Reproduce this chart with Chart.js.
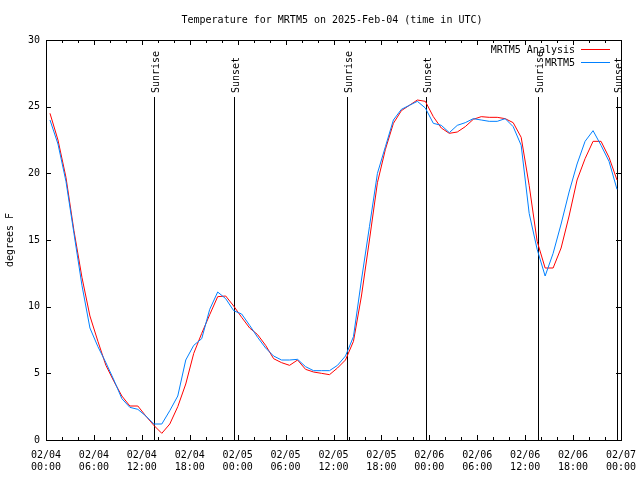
<!DOCTYPE html>
<html><head><meta charset="utf-8">
<script src="https://cdn.jsdelivr.net/npm/chart.js@4/dist/chart.umd.min.js"></script>
<style>html,body{margin:0;padding:0;background:#fff;}#wrap{width:640px;height:480px;}</style>
</head><body><div id="wrap"><canvas id="c" width="640" height="480"></canvas></div>
<script>
const hours = [0.5,1.5,2.5,3.5,4.5,5.5,6.5,7.5,8.5,9.5,10.5,11.5,12.5,13.5,14.5,15.5,16.5,17.5,18.5,19.5,20.5,21.5,22.5,23.5,
  24.5,25.5,26.5,27.5,28.5,29.5,30.5,31.5,32.5,33.5,34.5,35.5,36.5,37.5,38.5,39.5,40.5,41.5,42.5,43.5,44.5,45.5,46.5,47.5,
  48.5,49.5,50.5,51.5,52.5,53.5,54.5,55.5,56.5,57.5,58.5,59.5,60.5,61.5,62.5,63.5,64.5,65.5,66.5,67.5,68.5,69.5,70.5,71.5];
const analysis = [24.5,22.5,19.7,15.7,12.2,9.3,7.4,5.6,4.4,3.3,2.55,2.55,1.8,1.1,0.5,1.2,2.5,4.2,6.5,8.0,9.4,10.75,10.8,10.05,
  9.2,8.4,7.9,7.1,6.1,5.8,5.6,6.0,5.3,5.1,5.0,4.9,5.4,6.0,7.4,10.8,15.0,19.3,21.8,23.75,24.7,25.1,25.5,25.4,
  24.25,23.4,23.0,23.1,23.5,24.05,24.25,24.2,24.2,24.1,23.8,22.7,19.1,14.9,12.9,12.9,14.4,16.8,19.5,21.1,22.4,22.4,21.2,19.5];
const observed = [24.0,22.2,19.4,15.5,11.6,8.4,7.0,5.8,4.5,3.1,2.45,2.3,1.8,1.2,1.2,2.2,3.3,6.0,7.1,7.6,9.8,11.1,10.6,9.7,
  9.45,8.6,7.7,6.9,6.3,6.0,6.0,6.05,5.5,5.2,5.2,5.2,5.6,6.3,7.75,12.0,16.0,20.0,22.0,24.0,24.8,25.1,25.4,24.9,
  23.75,23.6,23.05,23.6,23.8,24.1,24.0,23.9,23.9,24.1,23.5,22.1,17.0,14.3,12.3,14.0,16.2,18.6,20.7,22.4,23.2,22.1,20.9,18.8];
const tickDates = ['02/04','02/04','02/04','02/04','02/05','02/05','02/05','02/05','02/06','02/06','02/06','02/06','02/07'];
const tickTimes = ['00:00','06:00','12:00','18:00','00:00','06:00','12:00','18:00','00:00','06:00','12:00','18:00','00:00'];
const eventNames = ['Sunrise','Sunset','Sunrise','Sunset','Sunrise','Sunset'];
const eventHours = [13.52,23.54,37.69,47.58,61.61,71.5];
const seriesNames = ['MRTM5 Analysis','MRTM5'];
const titleText = 'Temperature for MRTM5 on 2025-Feb-04 (time in UTC)';
const FONT = "'DejaVu Sans Mono', 'Liberation Mono', monospace";
const RED = '#ff0000', BLUE = '#0080ff';

const toPts = (arr) => arr.map((v, i) => ({x: hours[i], y: v}));

const decor = {
  id: 'decor',
  beforeDatasetsDraw(chart) {
    const {ctx, chartArea: a, scales: {x}} = chart;
    ctx.save();
    ctx.strokeStyle = '#000'; ctx.fillStyle = '#000'; ctx.lineWidth = 1;
    ctx.font = '10px ' + FONT;
    eventHours.forEach((h, i) => {
      const px = Math.round(x.getPixelForValue(h)) + 0.5;
      ctx.beginPath(); ctx.moveTo(px, 97); ctx.lineTo(px, a.bottom); ctx.stroke();
      ctx.save(); ctx.translate(px + 4, 93); ctx.rotate(-Math.PI / 2);
      ctx.textAlign = 'left'; ctx.textBaseline = 'alphabetic';
      ctx.fillText(eventNames[i], 0, 0); ctx.restore();
    });
    ctx.restore();
  },
  afterDraw(chart) {
    const {ctx, chartArea: a, scales: {x, y}} = chart;
    ctx.save();
    ctx.strokeStyle = '#000'; ctx.lineWidth = 1;
    ctx.strokeRect(a.left + 0.5, a.top + 0.5, a.right - a.left, a.bottom - a.top);
    ctx.beginPath();
    x.ticks.forEach(t => {
      const px = Math.round(x.getPixelForValue(t.value)) + 0.5;
      const len = t.value % 6 === 0 ? 5 : 3;
      ctx.moveTo(px, a.bottom); ctx.lineTo(px, a.bottom - len);
      ctx.moveTo(px, a.top); ctx.lineTo(px, a.top + len);
    });
    y.ticks.forEach(t => {
      const py = Math.round(y.getPixelForValue(t.value)) + 0.5;
      ctx.moveTo(a.left, py); ctx.lineTo(a.left + 5, py);
      ctx.moveTo(a.right, py); ctx.lineTo(a.right - 5, py);
    });
    ctx.stroke();
    ctx.fillStyle = '#000';
    ctx.font = '10px ' + FONT;
    ctx.textAlign = 'center'; ctx.textBaseline = 'middle';
    ctx.fillText(titleText, 332, 20);
    const colors = [RED, BLUE];
    const ly = [50, 63];
    seriesNames.forEach((n, i) => {
      ctx.textAlign = 'right'; ctx.fillStyle = '#000';
      ctx.fillText(n, 575, ly[i]);
      ctx.strokeStyle = colors[i];
      ctx.beginPath(); ctx.moveTo(581, ly[i] - 0.5); ctx.lineTo(610, ly[i] - 0.5); ctx.stroke();
    });
    ctx.restore();
  }
};

new Chart(document.getElementById('c'), {
  type: 'line',
  data: {
    datasets: [
      {label: seriesNames[0], data: toPts(analysis), borderColor: RED, borderWidth: 1, pointRadius: 0, tension: 0, order: 2},
      {label: seriesNames[1], data: toPts(observed), borderColor: BLUE, borderWidth: 1, pointRadius: 0, tension: 0, order: 1}
    ]
  },
  options: {
    responsive: false, animation: false, devicePixelRatio: 1,
    layout: {padding: {top: 40, right: 19, left: 0, bottom: 0}},
    plugins: {legend: {display: false}, title: {display: false}, tooltip: {enabled: false}},
    scales: {
      x: {
        type: 'linear', min: 0, max: 72,
        afterBuildTicks: (s) => { const t = []; for (let v = 0; v <= 72; v += 2) t.push({value: v}); s.ticks = t; },
        afterFit: (s) => { s.height = 40; s.paddingLeft = 0; s.paddingRight = 0; },
        grid: {display: false, drawTicks: false}, border: {display: false},
        ticks: {
          autoSkip: false, maxRotation: 0, minRotation: 0, padding: 9, color: '#000',
          font: {family: FONT, size: 10, lineHeight: 1.2},
          callback: (v) => (v % 6 === 0 ? [tickDates[v / 6], tickTimes[v / 6]] : '')
        }
      },
      y: {
        min: 0, max: 30,
        afterFit: (s) => { s.width = 46; s.paddingTop = 0; s.paddingBottom = 0; },
        grid: {display: false, drawTicks: false}, border: {display: false},
        ticks: {stepSize: 5, padding: 6, color: '#000', font: {family: FONT, size: 10}},
        title: {display: true, text: 'degrees F', color: '#000', font: {family: FONT, size: 10}, padding: {top: 4, bottom: 0}}
      }
    }
  },
  plugins: [decor]
});
</script></body></html>
